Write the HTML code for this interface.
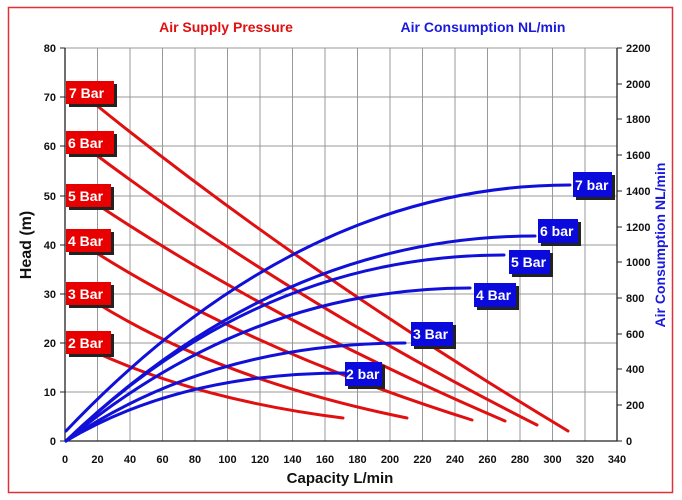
<!DOCTYPE html>
<html><head><meta charset="utf-8"><style>
body{margin:0;background:#fff}
svg{display:block}
text{font-family:"Liberation Sans",Arial,sans-serif;font-weight:bold}
</style></head><body>
<svg width="682" height="500" viewBox="0 0 682 500">
<rect x="8.5" y="7.5" width="664" height="485" fill="#fff" stroke="#e0303a" stroke-width="1.5"/>
<text x="226" y="32" fill="#e01010" font-size="14" text-anchor="middle">Air Supply Pressure</text>
<text x="483" y="32" fill="#1a1adc" font-size="14" text-anchor="middle">Air Consumption NL/min</text>
<g stroke="#999" stroke-width="1">
<path d="M97.5 48V441M130 48V441M162.5 48V441M195 48V441M227.5 48V441M260 48V441M292.5 48V441M325 48V441M357.5 48V441M390 48V441M422.5 48V441M455 48V441M487.5 48V441M520 48V441M552.5 48V441M585 48V441M617 48V441"/>
<path d="M65 48H617M65 97H617M65 146H617M65 196H617M65 245H617M65 294H617M65 343H617M65 392H617"/>
</g>
<path d="M65 48V441H617V48" fill="none" stroke="#222" stroke-width="1.3"/>
<g stroke="#222"><path d="M60 48H65M60 97H65M60 146H65M60 196H65M60 245H65M60 294H65M60 343H65M60 392H65M60 441H65"/>
<path d="M617 48h5M617 84h5M617 119h5M617 155h5M617 191h5M617 227h5M617 262h5M617 298h5M617 334h5M617 369h5M617 405h5M617 441h5"/></g>
<g font-size="11" fill="#111" text-anchor="end">
<text x="56" y="52">80</text><text x="56" y="101">70</text><text x="56" y="150">60</text><text x="56" y="200">50</text><text x="56" y="249">40</text><text x="56" y="298">30</text><text x="56" y="347">20</text><text x="56" y="396">10</text><text x="56" y="445">0</text>
</g>
<g font-size="11" fill="#111">
<text x="626" y="52">2200</text><text x="626" y="88">2000</text><text x="626" y="123">1800</text><text x="626" y="159">1600</text><text x="626" y="195">1400</text><text x="626" y="231">1200</text><text x="626" y="266">1000</text><text x="626" y="302">800</text><text x="626" y="338">600</text><text x="626" y="373">400</text><text x="626" y="409">200</text><text x="626" y="445">0</text>
</g>
<g font-size="11" fill="#111" text-anchor="middle">
<text x="65" y="463">0</text><text x="97.5" y="463">20</text><text x="130" y="463">40</text><text x="162.5" y="463">60</text><text x="195" y="463">80</text><text x="227.5" y="463">100</text><text x="260" y="463">120</text><text x="292.5" y="463">140</text><text x="325" y="463">160</text><text x="357.5" y="463">180</text><text x="390" y="463">200</text><text x="422.5" y="463">220</text><text x="455" y="463">240</text><text x="487.5" y="463">260</text><text x="520" y="463">280</text><text x="552.5" y="463">300</text><text x="585" y="463">320</text><text x="617" y="463">340</text>
</g>
<text x="340" y="483" font-size="15" fill="#111" text-anchor="middle">Capacity L/min</text>
<text transform="translate(31,245) rotate(-90)" font-size="16" fill="#111" text-anchor="middle">Head (m)</text>
<text transform="translate(665,245) rotate(-90)" font-size="14" fill="#1a1adc" text-anchor="middle">Air Consumption NL/min</text>
<g fill="none" stroke="#e01010" stroke-width="3" stroke-linecap="round">
<path d="M95 104Q300 270 568 431"/>
<path d="M95 154Q290 300 537 425"/>
<path d="M95 203Q270 320 505 421"/>
<path d="M95 252Q250 350 472 420"/>
<path d="M95 302Q220 380 407 418"/>
<path d="M95 352Q200 400 343 418"/>
</g>
<g fill="none" stroke="#1010d8" stroke-width="3" stroke-linecap="round">
<path d="M66 431Q300 185 570 185"/>
<path d="M66 441Q280 236 535 236"/>
<path d="M66 441Q260 255 504 255"/>
<path d="M66 441Q250 288 470 288"/>
<path d="M66 441Q210 343 405 343"/>
<path d="M66 441Q180 373 345 373"/>
</g>
<g>
<rect x="69" y="84" width="48" height="23" fill="#222"/><rect x="66" y="81" width="48" height="23" fill="#e80000"/>
<rect x="69" y="134" width="48" height="23" fill="#222"/><rect x="66" y="131" width="48" height="23" fill="#e80000"/>
<rect x="69" y="187" width="45" height="23" fill="#222"/><rect x="66" y="184" width="45" height="23" fill="#e80000"/>
<rect x="69" y="232" width="45" height="23" fill="#222"/><rect x="66" y="229" width="45" height="23" fill="#e80000"/>
<rect x="69" y="285" width="45" height="23" fill="#222"/><rect x="66" y="282" width="45" height="23" fill="#e80000"/>
<rect x="69" y="334" width="45" height="23" fill="#222"/><rect x="66" y="331" width="45" height="23" fill="#e80000"/>
</g>
<g font-size="14" fill="#fff">
<text x="69" y="98">7 Bar</text><text x="68" y="148">6 Bar</text><text x="68" y="201">5 Bar</text><text x="68" y="246">4 Bar</text><text x="68" y="299">3 Bar</text><text x="68" y="348">2 Bar</text>
</g>
<g>
<rect x="576" y="175" width="39" height="25" fill="#222"/><rect x="573" y="172" width="39" height="25" fill="#0a0adc"/>
<rect x="541" y="222" width="40" height="24" fill="#222"/><rect x="538" y="219" width="40" height="24" fill="#0a0adc"/>
<rect x="512" y="253" width="41" height="24" fill="#222"/><rect x="509" y="250" width="41" height="24" fill="#0a0adc"/>
<rect x="477" y="286" width="42" height="24" fill="#222"/><rect x="474" y="283" width="42" height="24" fill="#0a0adc"/>
<rect x="414" y="325" width="42" height="24" fill="#222"/><rect x="411" y="322" width="42" height="24" fill="#0a0adc"/>
<rect x="348" y="365" width="37" height="24" fill="#222"/><rect x="345" y="362" width="37" height="24" fill="#0a0adc"/>
</g>
<g font-size="14" fill="#fff">
<text x="575" y="190">7 bar</text><text x="540" y="236">6 bar</text><text x="511" y="267">5 Bar</text><text x="476" y="300">4 Bar</text><text x="413" y="339">3 Bar</text><text x="346" y="379">2 bar</text>
</g>
</svg>
</body></html>
